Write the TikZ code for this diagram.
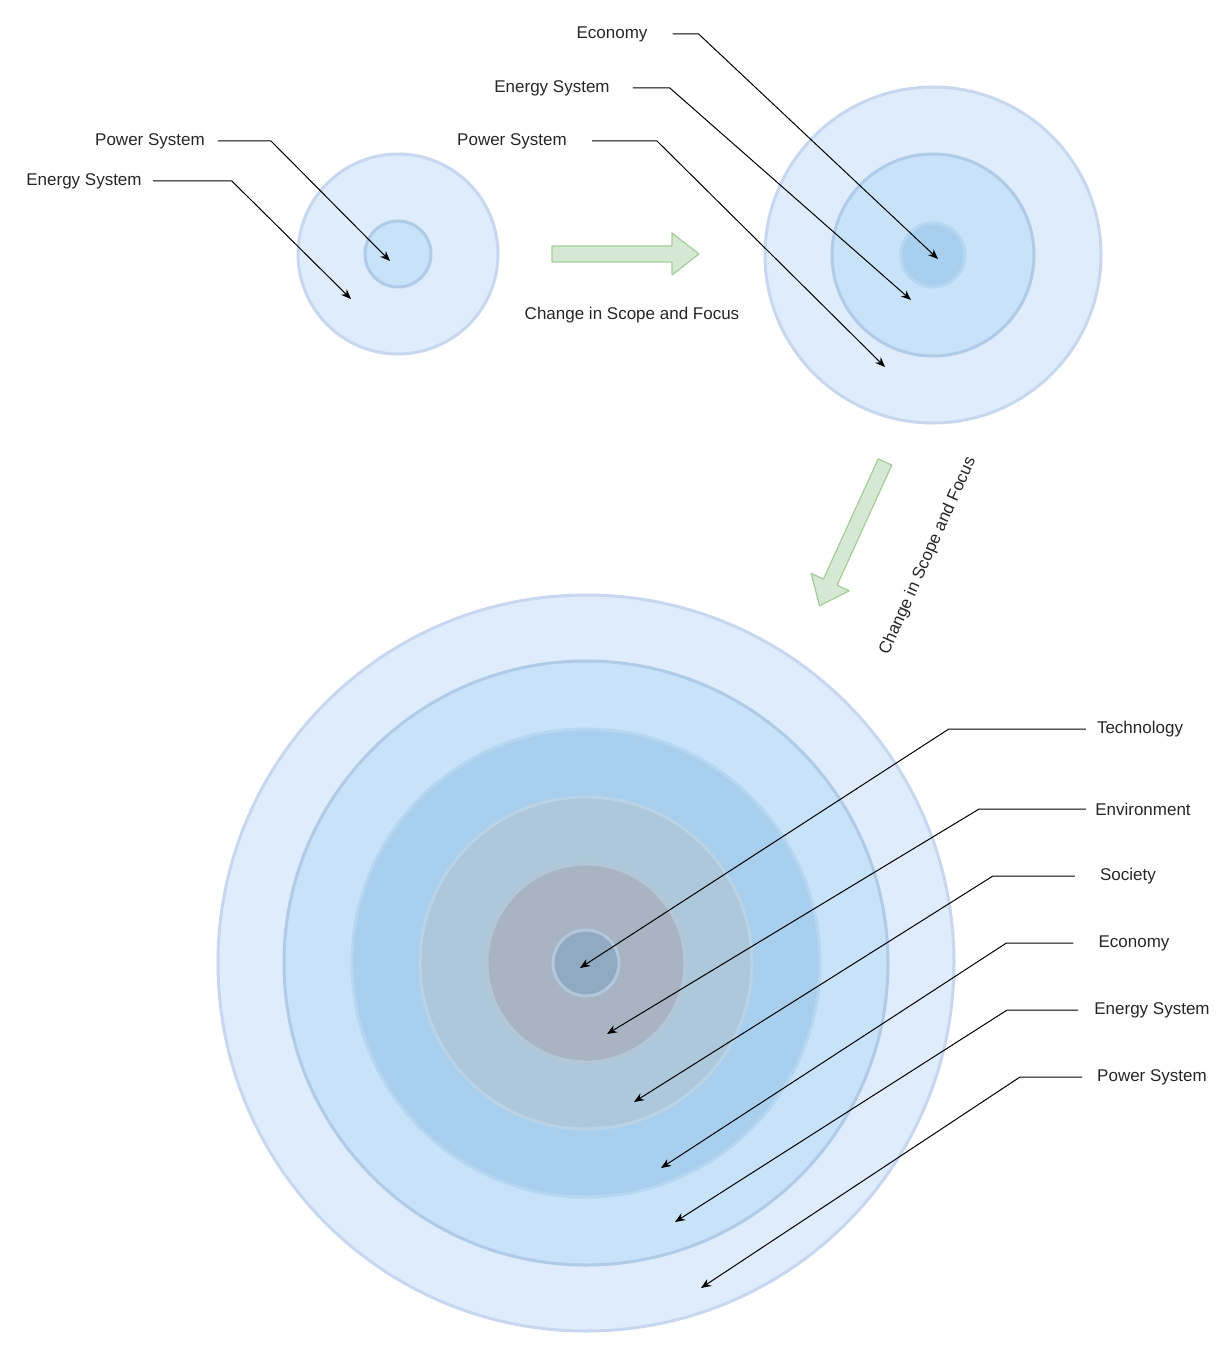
\documentclass[tikz,border=0pt]{standalone}
\usepackage{fontspec}
\setmainfont{Liberation Sans}
\usetikzlibrary{arrows.meta}

\definecolor{ringA}{HTML}{DEECFB}
\definecolor{ringAline}{HTML}{C6D7EF}
\definecolor{ringB}{HTML}{C8E2FA}
\definecolor{ringBline}{HTML}{B0CBE8}
\definecolor{ringC}{HTML}{A9CFEE}
\definecolor{ringCline}{HTML}{B6D6F2}
\definecolor{ringD}{HTML}{ADC8DA}
\definecolor{ringDline}{HTML}{BAD3E6}
\definecolor{ringE}{HTML}{A9B4C2}
\definecolor{ringEline}{HTML}{B4C6D8}
\definecolor{ringF}{HTML}{92A9C2}
\definecolor{ringFline}{HTML}{B2C8DE}
\definecolor{chgfill}{HTML}{D5E8D4}
\definecolor{chgline}{HTML}{A3CE98}

\tikzset{
  ring/.style={circle, inner sep=0pt, line width=3pt, minimum size=#1},
  lbl/.style={inner xsep=11pt, inner ysep=2pt, text=black!85,
    font=\fontsize{17}{20}\selectfont},
  lead/.style={line width=1pt, -{Stealth[length=10pt,width=8pt]}},
  chg/.style={fill=chgfill, draw=chgline, line width=1.2pt, line join=round}
}

\begin{document}
\begin{tikzpicture}[x=1pt, y=-1pt]
	\useasboundingbox (0,0) rectangle (1231,1351);
	% small picture
	\node[ring=200pt, fill=ringA, draw=ringAline] (s1) at (398,254) {};
	\node[ring=66pt, fill=ringB, draw=ringBline] (s2) at (398,254) {};
	\node[lbl] (ps1) at (150,141) {Power System};
	\node[lbl] (es1) at (84,181) {Energy System};
	\coordinate (ps1t) at (390,261);
	\coordinate (es1t) at (351,299);
	\draw[lead] ([xshift=2pt]ps1.east) -- ++(53,0) -- (ps1t);
	\draw[lead] (es1.east) -- ++(79,0) -- (es1t);
	% first change
	\draw[chg] (552,246) -- (672,246) -- (672,233) -- (699,254) -- (672,275)
		-- (672,262) -- (552,262) -- cycle;
	\node[lbl] (chg1) at (632,315) {Change in Scope and Focus};
	% middle picture
	\node[ring=336pt, fill=ringA, draw=ringAline] (m1) at (933,255) {};
	\node[ring=202pt, fill=ringB, draw=ringBline] (m2) at (933,255) {};
	\node[ring=64pt, fill=ringC, draw=ringCline] (m3) at (933,255) {};
	\node[lbl] (ec2) at (612,34) {Economy};
	\node[lbl] (es2) at (552,88) {Energy System};
	\node[lbl] (ps2) at (512,141) {Power System};
	\coordinate (ec2t) at (938,259);
	\coordinate (es2t) at (911,300);
	\coordinate (ps2t) at (885,367);
	\draw[lead] ([xshift=14pt]ec2.east) -- ++(26,0) -- (ec2t);
	\draw[lead] ([xshift=12pt]es2.east) -- ++(37,0) -- (es2t);
	\draw[lead] ([xshift=14pt]ps2.east) -- ++(65,0) -- (ps2t);
	% second change
	\begin{scope}[shift={(885,462)}, rotate=-114.5]
		\draw[chg] (0,-7.5) -- (132,-7.5) -- (132,-21) -- (158,0) -- (132,21)
			-- (132,7.5) -- (0,7.5) -- cycle;
	\end{scope}
	\node[lbl, rotate=66] (chg2) at (928,556) {Change in Scope and Focus};
	% big picture
	\node[ring=736pt, fill=ringA, draw=ringAline] (b1) at (586,963) {};
	\node[ring=604pt, fill=ringB, draw=ringBline] (b2) at (586,963) {};
	\node[ring=468pt, fill=ringC, draw=ringCline] (b3) at (586,963) {};
	\node[ring=332pt, fill=ringD, draw=ringDline] (b4) at (586,963) {};
	\node[ring=198pt, fill=ringE, draw=ringEline] (b5) at (586,963) {};
	\node[ring=66pt, fill=ringF, draw=ringFline] (b6) at (586,963) {};
	\node[lbl] (tech) at (1140,729) {Technology};
	\node[lbl] (env) at (1143,809) {Environment};
	\node[lbl] (soc) at (1128,876) {Society};
	\node[lbl] (eco) at (1134,943) {Economy};
	\node[lbl] (ene) at (1152,1010) {Energy System};
	\node[lbl] (pow) at (1152,1077) {Power System};
	\coordinate (techt) at (580,968);
	\coordinate (envt) at (607,1034);
	\coordinate (soct) at (634,1102);
	\coordinate (ecot) at (661,1168);
	\coordinate (enet) at (675,1222);
	\coordinate (powt) at (701,1288);
	\draw[lead] (tech.west) -- ++(-137,0) -- (techt);
	\draw[lead] ([xshift=2pt]env.west) -- ++(-107,0) -- (envt);
	\draw[lead] ([xshift=-14pt]soc.west) -- ++(-82,0) -- (soct);
	\draw[lead] ([xshift=-14pt]eco.west) -- ++(-67,0) -- (ecot);
	\draw[lead] ([xshift=-5pt]ene.west) -- ++(-71,0) -- (enet);
	\draw[lead] ([xshift=-4pt]pow.west) -- ++(-62,0) -- (powt);
\end{tikzpicture}
\end{document}
